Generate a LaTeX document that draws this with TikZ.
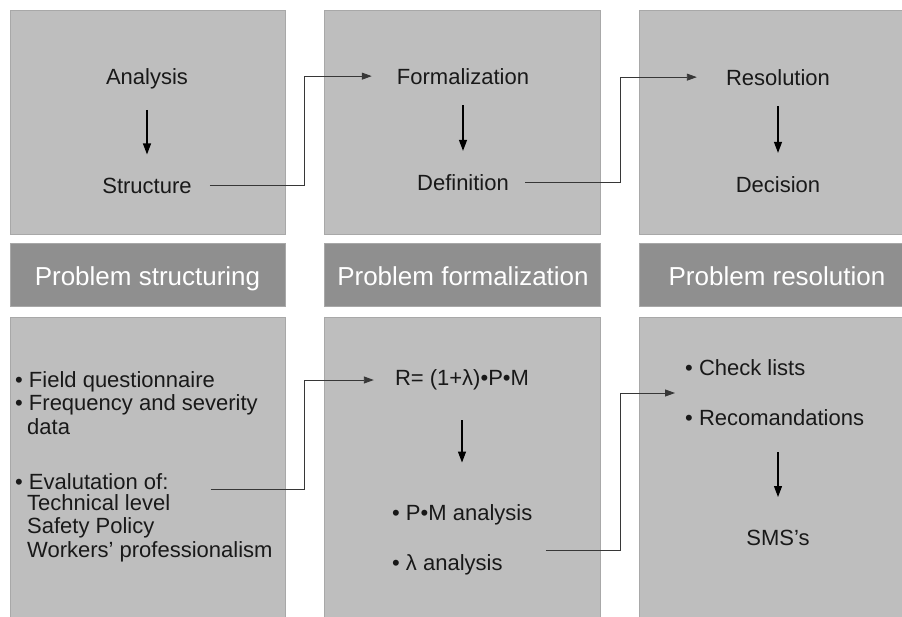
\documentclass[tikz,border=0pt]{standalone}
\usepackage{fontspec}
\setmainfont{Liberation Sans}
\usetikzlibrary{positioning,arrows.meta}

\definecolor{panelgray}{RGB}{190,190,190}
\definecolor{bargray}{RGB}{143,143,143}
\definecolor{edgegray}{RGB}{168,168,168}
\definecolor{linkgray}{RGB}{55,55,55}

\begin{document}
\begin{tikzpicture}[x=1pt,y=-1pt,
  panel/.style={fill=panelgray,draw=edgegray,line width=0.8pt},
  bar/.style={fill=bargray,draw=edgegray,line width=0.8pt},
  txt/.style={font=\fontsize{22}{23.5}\selectfont,inner sep=0pt,text=black!90},
  bartxt/.style={font=\fontsize{26}{28}\selectfont,text=white,inner sep=0pt,anchor=base},
  down/.style={-{Triangle[length=11pt,width=8pt]},line width=1.2pt,shorten <=21pt,shorten >=23pt},
  link/.style={-{Triangle[length=10pt,width=7pt]},draw=linkgray,line width=0.9pt}]

\useasboundingbox (0,0) rectangle (902,616);

% panels and title bars
\draw[panel] (10,10) rectangle (285,234);
\draw[panel] (324,10) rectangle (600,234);
\draw[panel] (639,10) rectangle (903,234);
\draw[bar] (10,243) rectangle (285,306);
\draw[bar] (324,243) rectangle (600,306);
\draw[bar] (639,243) rectangle (903,306);
\draw[panel] (10,317) rectangle (285,617);
\draw[panel] (324,317) rectangle (600,617);
\draw[panel] (639,317) rectangle (903,617);

\node[bartxt] (barstruct) at (147.5,285) {Problem structuring};
\node[bartxt] (barformal) at (463,285) {Problem formalization};
\node[bartxt] (barresol) at (777,285) {Problem resolution};

% top row
\node[txt,anchor=base] (analysis) at (147,84) {Analysis};
\node[txt,anchor=base] (structure) at (147,193) {Structure};
\node[txt,anchor=base] (formal) at (463,84) {Formalization};
\node[txt,anchor=base] (definition) at (463,190) {Definition};
\node[txt,anchor=base] (resolution) at (778,85) {Resolution};
\node[txt,anchor=base] (decision) at (778,192) {Decision};

\draw[down] (analysis) -- (structure);
\draw[down] (formal) -- (definition);
\draw[down] (resolution) -- (decision);

\coordinate (bend1) at (304,0);
\coordinate (bend2) at (620,0);

\draw[link] ([xshift=18pt]structure.east) -| (bend1 |- formal.west)
  -- ([xshift=-25pt]formal.west);
\draw[link] ([xshift=16pt]definition.east) -| (bend2 |- resolution.west)
  -- ([xshift=-29pt]resolution.west);

% bottom row
\node[txt,anchor=west,align=left] (fieldlist) at (15,403)
  {• Field questionnaire\\• Frequency and severity\\\hspace{12pt}data};
\node[txt,anchor=west] (evalof) at (15,482) {• Evalutation of:};
\node[txt,anchor=west,align=left] (evalitems) at (27,528)
  {Technical level\\Safety Policy\\Workers’ professionalism};

\node[txt] (rform) at (462,380) {R= (1+λ)•P•M};
\node[txt,anchor=west] (pm) at (392,515) {• P•M analysis};
\node[txt,anchor=west] (lam) at (392,565) {• λ analysis};

\node[txt,anchor=west,align=left] (reslist) at (685,393)
  {• Check lists\\[26.5pt]• Recomandations};
\node[txt] (sms) at (778,538) {SMS’s};

\draw[down,shorten <=30pt,shorten >=42pt] (rform.south) -- (rform.south |- pm.north);
\draw[down,shorten <=26pt,shorten >=33pt] (reslist.south -| sms.north) -- (sms.north);

\draw[link] ([xshift=42pt,yshift=-7pt]evalof.east) -| (bend1 |- rform.west)
  -- ([xshift=-21pt]rform.west);
\draw[link] ([xshift=43pt,yshift=15pt]lam.east) -| (bend2 |- reslist.west)
  -- ([xshift=-10pt]reslist.west);
\end{tikzpicture}
\end{document}
